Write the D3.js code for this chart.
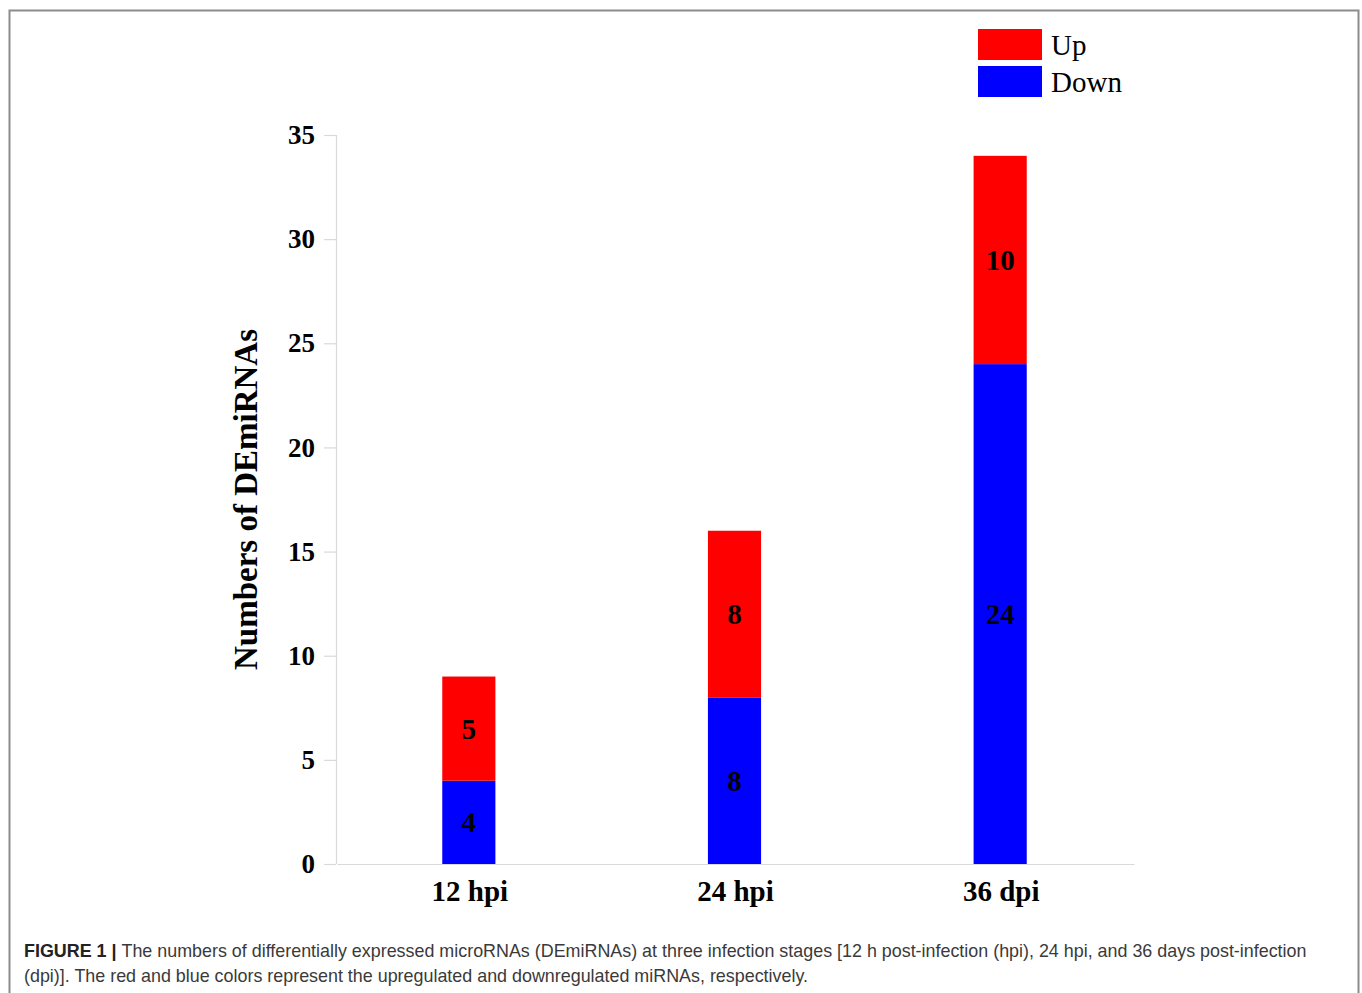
<!DOCTYPE html>
<html>
<head>
<meta charset="utf-8">
<script src="https://cdn.jsdelivr.net/npm/d3@7"></script>
<style>
  body { margin: 0; background: #fff; }
  svg { display: block; }
</style>
</head>
<body>
<script>
const width = 1362;
const height = 993;

// data
const stages = ["12 hpi", "24 hpi", "36 dpi"];
const down = [4, 8, 24];
const up = [5, 8, 10];
const seriesNames = ["Up", "Down"];
const yTicks = [0, 5, 10, 15, 20, 25, 30, 35];

const colors = {Up: "#ff0000", Down: "#0000ff"};
const serif = "'Liberation Serif', 'Times New Roman', serif";
const sans = "'Liberation Sans', Arial, Helvetica, sans-serif";

let margin = {top: 135, right: 229, bottom: 129, left: 336};

let svg = d3.select("body")
    .append("svg")
    .attr("width", width)
    .attr("height", height);

// outer frame of the figure panel
svg.append("path")
    .attr("d", `M9.5,${height + 5} V10.5 H1358.5 V${height + 5}`)
    .attr("fill", "none")
    .attr("stroke", "#8c8c8c")
    .attr("stroke-width", 2);

let xScale = d3.scaleBand()
    .domain(stages)
    .range([margin.left, width - margin.right])
    .paddingInner(0.8)
    .paddingOuter(0.4);

let yScale = d3.scaleLinear()
    .domain([0, 35])
    .range([height - margin.bottom, margin.top]);

// stacked table: Down on the bottom, Up on top
let table = stages.map((s, i) => ({stage: s, Down: down[i], Up: up[i]}));
let stack = d3.stack().keys(["Down", "Up"])(table);

///////////////
// Draw axes //
///////////////
let leftAxis = d3.axisLeft(yScale)
    .tickValues(yTicks)
    .tickSize(12)
    .tickPadding(9);

let leftContainer = svg.append("g")
    .attr("transform", `translate(${margin.left}, 0)`)
    .call(leftAxis);
leftContainer.select(".domain").attr("stroke", "#d9d9d9").attr("stroke-width", 1.2)
    .attr("d", `M0.5,${yScale(35)}V${yScale(0)}`);
leftContainer.selectAll(".tick line").attr("stroke", "#d9d9d9").attr("stroke-width", 1.2);
leftContainer.selectAll(".tick text")
    .attr("font-family", serif)
    .attr("font-weight", "bold")
    .attr("font-size", 27)
    .attr("fill", "#000");

let bottomAxis = d3.axisBottom(xScale).tickSize(0).tickPadding(16);
let bottomContainer = svg.append("g")
    .attr("transform", `translate(1, ${yScale(0)})`)
    .call(bottomAxis);
bottomContainer.select(".domain").attr("stroke", "#d9d9d9").attr("stroke-width", 1.2);
bottomContainer.selectAll(".tick text")
    .attr("font-family", serif)
    .attr("font-weight", "bold")
    .attr("font-size", 29)
    .attr("fill", "#000");

svg.append("text")
    .attr("transform", `translate(257, ${(yScale(0) + yScale(35)) / 2}) rotate(-90)`)
    .attr("text-anchor", "middle")
    .attr("font-family", serif)
    .attr("font-weight", "bold")
    .attr("font-size", 33)
    .text("Numbers of DEmiRNAs");

///////////////
// Draw bars //
///////////////
let layers = svg.selectAll("g.layer")
    .data(stack)
    .join("g")
    .attr("class", "layer")
    .attr("fill", d => colors[d.key]);

layers.selectAll("rect")
    .data(d => d)
    .join("rect")
    .attr("x", d => xScale(d.data.stage))
    .attr("y", d => yScale(d[1]))
    .attr("width", xScale.bandwidth())
    .attr("height", d => yScale(d[0]) - yScale(d[1]));

layers.selectAll("text")
    .data(d => d)
    .join("text")
    .attr("x", d => xScale(d.data.stage) + xScale.bandwidth() / 2)
    .attr("y", d => yScale((d[0] + d[1]) / 2))
    .attr("dy", "0.35em")
    .attr("text-anchor", "middle")
    .attr("font-family", serif)
    .attr("font-weight", "bold")
    .attr("font-size", 29)
    .attr("fill", "#000")
    .text(d => d[1] - d[0]);

////////////
// Legend //
////////////
let legend = svg.append("g")
    .attr("transform", "translate(978, 29)");
let items = legend.selectAll("g")
    .data(seriesNames)
    .join("g")
    .attr("transform", (d, i) => `translate(0, ${i * 37})`);
items.append("rect")
    .attr("width", 64)
    .attr("height", 31)
    .attr("fill", d => colors[d]);
items.append("text")
    .attr("x", 73)
    .attr("y", 16)
    .attr("dy", "0.35em")
    .attr("font-family", serif)
    .attr("font-size", 29)
    .attr("fill", "#000")
    .text(d => d);

/////////////
// Caption //
/////////////
let caption = svg.append("g")
    .attr("font-family", sans)
    .attr("font-size", 17.9)
    .attr("fill", "#3a3a3a");
let line1 = caption.append("text").attr("x", 24).attr("y", 957);
line1.append("tspan").attr("font-weight", "bold").attr("fill", "#222").text("FIGURE 1 | ");
line1.append("tspan").text("The numbers of differentially expressed microRNAs (DEmiRNAs) at three infection stages [12 h post-infection (hpi), 24 hpi, and 36 days post-infection");
caption.append("text").attr("x", 24).attr("y", 982)
    .text("(dpi)]. The red and blue colors represent the upregulated and downregulated miRNAs, respectively.");
</script>
</body>
</html>
